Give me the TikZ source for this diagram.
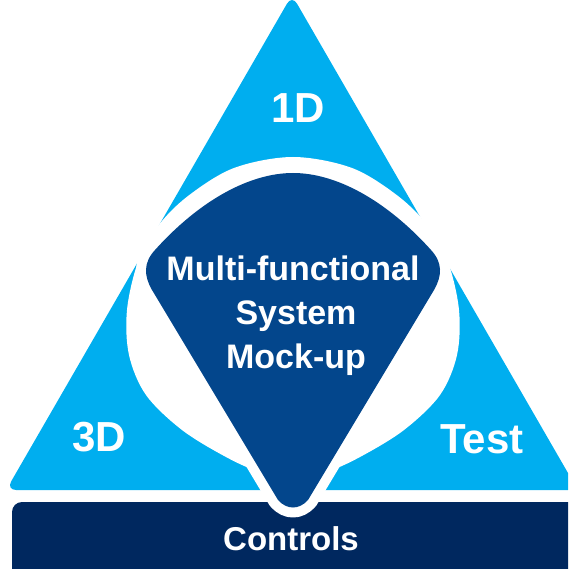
\documentclass[tikz,border=0pt]{standalone}
\usepackage{fontspec}
\setmainfont{Liberation Sans}
\definecolor{cyanfill}{HTML}{00AEEF}
\definecolor{corefill}{HTML}{03468C}
\definecolor{barfill}{HTML}{00285F}
\begin{document}
\begin{tikzpicture}[x=1pt,y=-1pt,
  lbl/.style={text=white,font=\bfseries\fontsize{42}{44}\selectfont,anchor=base,inner sep=0pt},
  corelbl/.style={text=white,font=\bfseries\fontsize{34}{36}\selectfont,anchor=base,inner sep=0pt},
  barlbl/.style={text=white,font=\bfseries\fontsize{33}{35}\selectfont,anchor=base,inner sep=0pt}]
\useasboundingbox (0,0) rectangle (568,569);
\clip (0,0) rectangle (568,569);
% outer triangle, split into three parts by the white lens
\fill[cyanfill, rounded corners=10]
  (292,490) -- (6.2,490) -- (292,-5) -- (577.8,490) -- cycle;
% bottom bar
\fill[barfill, rounded corners=10] (12,502) rectangle (620,620);
% white lens
\fill[white] plot[smooth cycle, tension=0.55] coordinates {
  (293,157) (352,168) (398,196) (428,226) (448,262) (459,310) (457,355)
  (440,395) (404,430) (360,457) (326,472) (293,477) (260,472) (226,457)
  (182,430) (146,395) (129,355) (127,310) (138,262) (158,226) (188,196)
  (234,168)};
% central drop with white outline
\path[fill=corefill, preaction={draw=white, line width=20, line join=round}]
  (293,173) .. controls (250,173) and (200,200) .. (155,250)
  .. controls (143,263) and (144,276) .. (152,290)
  -- (278,500) .. controls (287,510) and (299,510) .. (308,500)
  -- (434,290) .. controls (442,276) and (443,263) .. (431,250)
  .. controls (386,200) and (336,173) .. (293,173) -- cycle;
% labels
\node[lbl] (d1) at (298,123) {1D};
\node[lbl] (d3) at (99,451) {3D};
\node[lbl] (tst) at (482,453) {Test};
\node[corelbl] (m1) at (293,280) {Multi-functional};
\node[corelbl] (m2) at (296,324) {System};
\node[corelbl] (m3) at (296,368) {Mock-up};
\node[barlbl] (ctl) at (291,550) {Controls};
\end{tikzpicture}
\end{document}
